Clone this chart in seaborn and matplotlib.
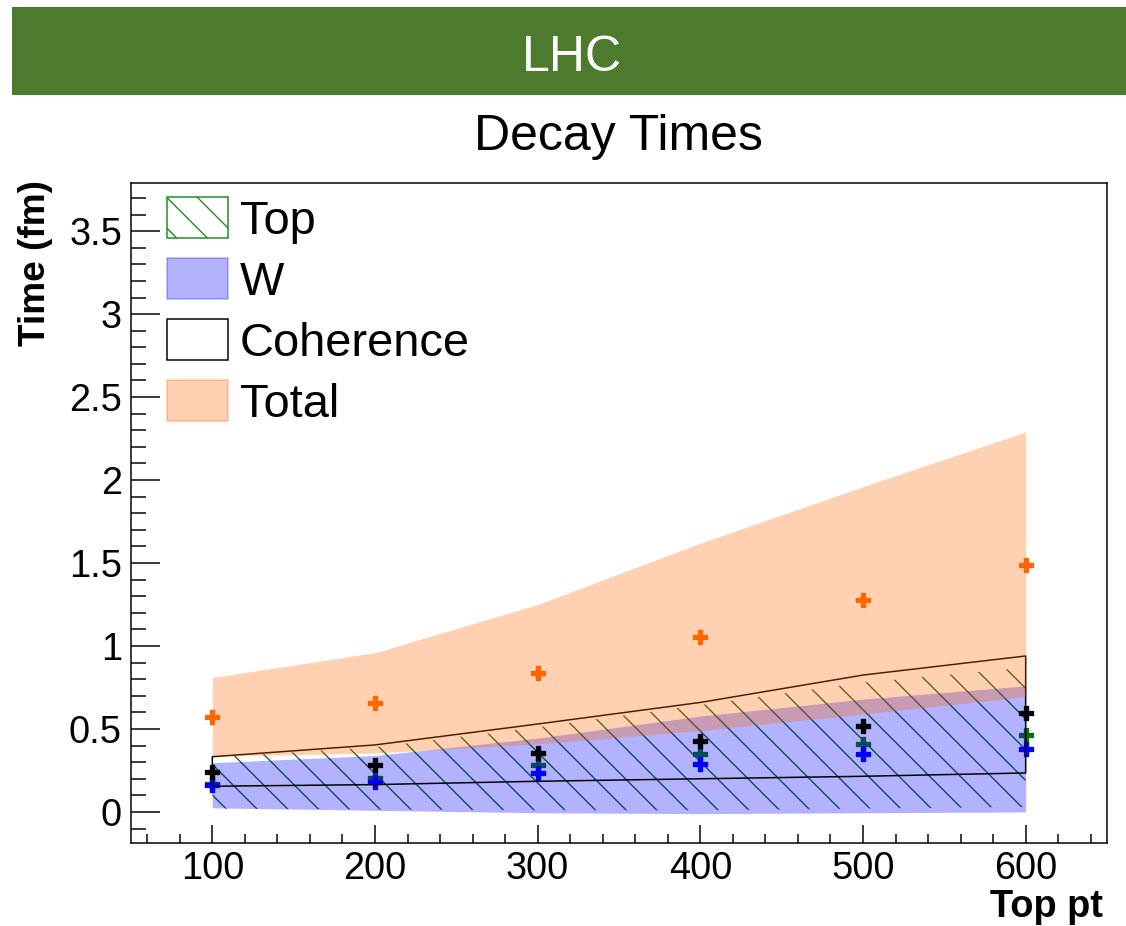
import numpy as np
import pandas as pd
import matplotlib
matplotlib.use("Agg")
import matplotlib.pyplot as plt
import matplotlib.patches as mpatches
from matplotlib.ticker import MultipleLocator, FixedLocator
import seaborn as sns

# Top-quark transverse momentum bins
top_pt = [100, 200, 300, 400, 500, 600]

# Band edges (fm)
top_lo = [0.02, 0.015, 0.01, 0.01, 0.02, 0.03]
top_hi = [0.33, 0.39, 0.51, 0.645, 0.78, 0.87]
w_lo = [0.025, 0.01, -0.005, -0.01, -0.005, 0.0]
w_hi = [0.297, 0.34, 0.445, 0.578, 0.68, 0.76]
coh_lo = [0.155, 0.165, 0.185, 0.20, 0.215, 0.235]
coh_hi = [0.333, 0.404, 0.53, 0.66, 0.825, 0.94]
total_lo = [0.335, 0.355, 0.41, 0.49, 0.59, 0.695]
total_hi = [0.81, 0.96, 1.25, 1.62, 1.96, 2.29]

# Central values (fm)
total_mid = [0.57, 0.655, 0.835, 1.055, 1.28, 1.49]
coh_mid = [0.243, 0.283, 0.353, 0.43, 0.519, 0.594]
top_mid = [0.17, 0.205, 0.286, 0.347, 0.412, 0.464]
w_mid = [0.16, 0.18, 0.232, 0.292, 0.349, 0.38]

legend_labels = ["Top", "W", "Coherence", "Total"]
x_ticks = [100, 200, 300, 400, 500, 600]
y_ticks = [0, 0.5, 1, 1.5, 2, 2.5, 3, 3.5]
y_tick_labels = ["0", "0.5", "1", "1.5", "2", "2.5", "3", "3.5"]

DPI = 184
W_PX, H_PX = 1126, 926
PT = 72.0 / DPI  # points per pixel

sns.set_theme(style="ticks")
plt.rcParams["font.family"] = ["Liberation Sans", "DejaVu Sans"]
plt.rcParams["text.color"] = "black"
plt.rcParams["axes.labelcolor"] = "black"
plt.rcParams["hatch.linewidth"] = 1.4 * PT
plt.rcParams["axes.linewidth"] = 1.5 * PT

c_orange = "#ff6600"
c_blue = "#0000ff"
c_green = "#0d6e0d"
c_hatch = "#1a6e1a"
HATCH = "\\\\"  # two backslashes: diagonal lines, ROOT-like spacing
MARKER_S = (13 * PT) ** 2

fig = plt.figure(figsize=(W_PX / DPI, H_PX / DPI), dpi=DPI)
fig.patch.set_facecolor("white")

# green header banner
fig.add_artist(mpatches.Rectangle((12 / W_PX, 1 - 95 / H_PX), 1 - 12 / W_PX, 88 / H_PX,
                                  transform=fig.transFigure, facecolor="#4e7a2e",
                                  edgecolor="none", zorder=0))
fig.text(572 / W_PX, 1 - 58 / H_PX, "LHC", color="white", fontsize=50 * PT,
         ha="center", va="center")
fig.text(618 / W_PX, 1 - 137 / H_PX, "Decay Times", color="black", fontsize=50 * PT,
         ha="center", va="center")

ax = fig.add_axes([131 / W_PX, 1 - 843 / H_PX, (1107 - 131) / W_PX, (843 - 183) / H_PX])
ax.set_facecolor("white")


def central_points(values, color, z):
    df = pd.DataFrame({"pt": top_pt, "time": values})
    sns.scatterplot(data=df, x="pt", y="time", color=color, marker="P", s=MARKER_S,
                    edgecolor=color, linewidth=1.3 * PT, legend=False, zorder=z, ax=ax)


# layers drawn in order: Top, W, Coherence, Total
ax.fill_between(top_pt, top_lo, top_hi, facecolor="none", edgecolor=c_hatch,
                hatch=HATCH, linewidth=0, zorder=1)
central_points(top_mid, c_green, 1.2)

ax.fill_between(top_pt, w_lo, w_hi, facecolor=c_blue, alpha=0.3, linewidth=0, zorder=2)
central_points(w_mid, c_blue, 2.2)

ax.fill_between(top_pt, coh_lo, coh_hi, facecolor="none", edgecolor="black",
                linewidth=1.5 * PT, zorder=2.5)
central_points(coh_mid, "black", 2.6)

ax.fill_between(top_pt, total_lo, total_hi, facecolor=c_orange, alpha=0.3, linewidth=0, zorder=4)
central_points(total_mid, c_orange, 5)

ax.set_xlim(50, 650)
ax.set_ylim(-0.187, 3.79)

ax.xaxis.set_major_locator(FixedLocator(x_ticks))
ax.xaxis.set_minor_locator(MultipleLocator(20))
ax.yaxis.set_major_locator(FixedLocator(y_ticks))
ax.set_yticklabels(y_tick_labels)
ax.yaxis.set_minor_locator(MultipleLocator(0.1))

ax.tick_params(which="both", direction="in", top=False, right=False,
               width=1.5 * PT, color="black", labelcolor="black", labelsize=38 * PT)
ax.tick_params(axis="y", which="major", length=29 * PT, pad=9 * PT)
ax.tick_params(axis="y", which="minor", length=15 * PT)
ax.tick_params(axis="x", which="major", length=18 * PT, pad=8 * PT)
ax.tick_params(axis="x", which="minor", length=9 * PT)

for sp in ax.spines.values():
    sp.set_visible(True)
    sp.set_color("black")
    sp.set_linewidth(1.5 * PT)
    sp.set_zorder(6)

ax.set_xlabel("Top pt", fontsize=38 * PT, fontweight="bold", loc="right", color="black")
ax.xaxis.set_label_coords(1 - 4 / 976, -46 / 660)
ax.set_ylabel("Time (fm)", fontsize=37 * PT, fontweight="bold", loc="top", color="black")
ax.yaxis.set_label_coords(-78 / 976, 1 + 3 / 660)

handles = [
    mpatches.Patch(facecolor="white", edgecolor="#228b22", hatch=HATCH, linewidth=1.5 * PT),
    mpatches.Patch(facecolor=(0, 0, 1, 0.3), edgecolor=(0, 0, 1, 0.3), linewidth=1.5 * PT),
    mpatches.Patch(facecolor="white", edgecolor="black", linewidth=1.5 * PT),
    mpatches.Patch(facecolor=(1, 0.4, 0, 0.3), edgecolor=(1, 0.4, 0, 0.35), linewidth=1.5 * PT),
]
leg = ax.legend(handles, legend_labels, loc="upper left",
                bbox_to_anchor=(36 / 976, 1 - 14 / 660), frameon=False,
                fontsize=47 * PT, handlelength=61 / 47, handleheight=46 / 47,
                handletextpad=12 / 47, labelspacing=0.30, borderpad=0, borderaxespad=0)
leg.set_zorder(10)
for t in leg.get_texts():
    t.set_color("black")

fig.savefig("out.png", dpi=DPI, facecolor="white")
